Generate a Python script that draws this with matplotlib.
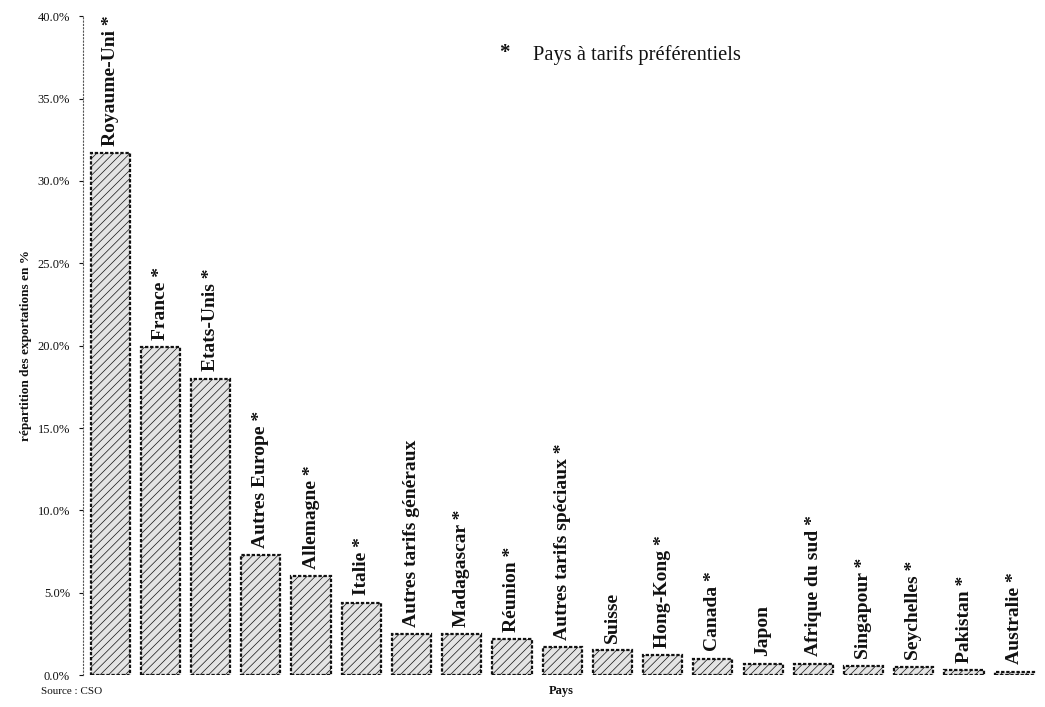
import matplotlib
matplotlib.use("AGG")

import matplotlib.pyplot as plt
import matplotlib.ticker as mticker
import numpy as np

# ── Data ────────────────────────────────────────────────────────────────────
PAYS = [
    "Royaume-Uni *", "France *", "Etats-Unis *", "Autres Europe *", "Allemagne *",
    "Italie *", "Autres tarifs généraux", "Madagascar *", "Réunion *",
    "Autres tarifs spéciaux *", "Suisse", "Hong-Kong *", "Canada *", "Japon",
    "Afrique du sud *", "Singapour *", "Seychelles *", "Pakistan *", "Australie *",
]
PARTS = [31.7, 19.9, 18.0, 7.3, 6.0, 4.4, 2.5, 2.5, 2.2, 1.7, 1.5, 1.2, 1.0,
         0.7, 0.7, 0.55, 0.5, 0.3, 0.2]
Y_TICKS = [0, 5, 10, 15, 20, 25, 30, 35, 40]

# ── Style ───────────────────────────────────────────────────────────────────
FONT = ["Liberation Serif", "DejaVu Serif"]
BAR_FACE = "#e4e4e4"
HATCH_COLOR = "#9a9a9a"
INK = "#111111"

plt.rcParams["font.family"] = FONT
plt.rcParams["hatch.color"] = HATCH_COLOR
plt.rcParams["hatch.linewidth"] = 0.5

fig = plt.figure(figsize=(10.45, 7.07), dpi=100, facecolor="white")
ax = fig.add_axes([0.079, 0.045, 0.918, 0.932])

x = np.arange(len(PAYS))
bars = ax.bar(x, PARTS, width=0.78, color=BAR_FACE, edgecolor=INK,
              linewidth=1.6, hatch="////", linestyle=(0, (1.5, 0.8)), zorder=3)

# rotated labels above bars
for xi, val, name in zip(x, PARTS, PAYS):
    ax.text(xi, val + 0.45, name, rotation=90, ha="center", va="bottom",
            fontsize=14, fontweight="bold", color=INK)

ax.set_xlim(-0.55, len(PAYS) - 0.45)
ax.set_ylim(0, 40)
ax.set_yticks(Y_TICKS)
ax.yaxis.set_major_formatter(mticker.FuncFormatter(lambda v, p: f"{v:.1f}%"))
ax.tick_params(axis="y", labelsize=9, direction="out", length=3, width=0.8,
               colors=INK, pad=6)
ax.set_xticks([])

for s in ("top", "right", "bottom"):
    ax.spines[s].set_visible(False)
ax.spines["left"].set_linestyle((0, (1, 2)))
ax.spines["left"].set_color("#555555")
ax.spines["left"].set_linewidth(0.8)

ax.set_ylabel("répartition des exportations en %", fontsize=9.5, fontweight="bold",
              color=INK, labelpad=4)

fig.text(0.537, 0.018, "Pays", fontsize=9, fontweight="bold", color=INK, ha="center")
fig.text(0.069, 0.018, "Source : CSO", fontsize=8, color=INK, ha="center")
fig.text(0.483, 0.918, "*", fontsize=15, fontweight="bold", color=INK, ha="center")
fig.text(0.510, 0.915, "Pays à tarifs préférentiels", fontsize=14.8, color=INK,
         ha="left")

fig.savefig("out.png", dpi=100, facecolor="white")
